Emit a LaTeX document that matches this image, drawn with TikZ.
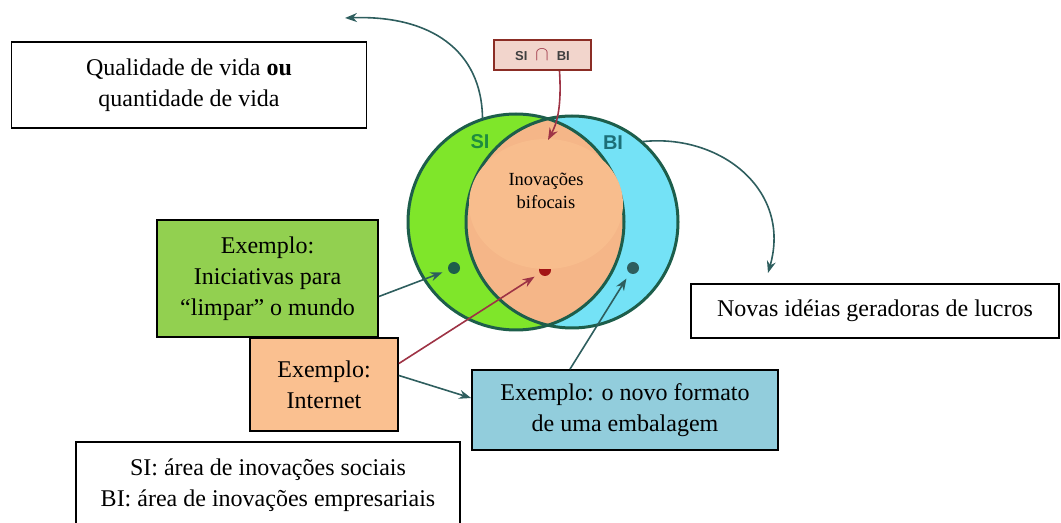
\documentclass[tikz,border=0pt]{standalone}
\usepackage{fontspec}
\setmainfont{Liberation Serif}
\newfontfamily\labelfont{Liberation Sans}
\usetikzlibrary{arrows.meta}

\definecolor{sigreen}{HTML}{7FE62A}
\definecolor{biblue}{HTML}{74E2F6}
\definecolor{interorange}{HTML}{F5B688}
\definecolor{bifocal}{HTML}{F8BD8D}
\definecolor{rimteal}{HTML}{1D5E4B}
\definecolor{sitext}{HTML}{1E8C3E}
\definecolor{bitext}{HTML}{1C6F78}
\definecolor{boxgreen}{HTML}{92D050}
\definecolor{boxorange}{HTML}{FAC090}
\definecolor{boxblue}{HTML}{92CDDC}
\definecolor{tealdark}{HTML}{2E5E5E}
\definecolor{redarrow}{HTML}{9E3345}
\definecolor{reddot}{HTML}{A31515}
\definecolor{sbborder}{HTML}{8B2D25}
\definecolor{sbfill}{HTML}{F2D5CC}

\begin{document}
\begin{tikzpicture}[x=0.5pt, y=-0.5pt,
    font=\fontsize{12}{15.5}\selectfont,
    box/.style={draw, line width=0.9pt, inner sep=0pt, align=center},
    rim/.style={draw=rimteal, line width=1.5pt},
    dot/.style={circle, inner sep=0pt, minimum size=6pt},
    link/.style={line width=0.8pt, -{Stealth[length=6pt, width=4.5pt]}}]
    \useasboundingbox (0,0) rectangle (1061,523);

    % Venn
    \node[circle, inner sep=0pt, minimum size=108pt, fill=sigreen] (SIc) at (516,222) {};
    \node[circle, inner sep=0pt, minimum size=106pt, fill=biblue] (BIc) at (572,222) {};
    \begin{scope}
      \clip (516,222) circle (54pt);
      \fill[interorange] (572,222) circle (53pt);
    \end{scope}
    \draw[rim] (SIc.center) circle (54pt);
    \draw[rim] (BIc.center) circle (53pt);

    \node[dot, fill=rimteal] (gd) at (454,268) {};
    \node[dot, fill=reddot] (rd) at (545,270) {};
    \node[dot, fill=tealdark] (bd) at (633,268) {};

    \fill[bifocal] (546,204) ellipse (38.5pt and 32.5pt);
    \node[align=center, font=\fontsize{9.25}{11.5}\selectfont] (inov) at (546,191) {Inovações\\bifocais};
    \node[text=sitext, font=\labelfont\bfseries\fontsize{10}{12}\selectfont] (silabel) at (480,142) {SI};
    \node[text=bitext, font=\labelfont\bfseries\fontsize{10}{12}\selectfont] (bilabel) at (613,143) {BI};

    \node[box, draw=sbborder, line width=1.2pt, fill=sbfill, minimum width=48.5pt, minimum height=15pt,
      font=\labelfont\bfseries\fontsize{6.5}{7}\selectfont] (SB) at (542.5,55)
      {\textcolor{black!75}{SI}\hspace{4pt}{\color{redarrow}\fontsize{10}{10}\selectfont$\cap$}\hspace{4pt}\textcolor{black!75}{BI}};

    % caixas
    \node[box, fill=white, minimum width=177.5pt, minimum height=43pt] (Q) at (189,85)
      {Qualidade de vida \textbf{ou}\\quantidade de vida};
    \node[box, fill=white, minimum width=184pt, minimum height=27pt] (N) at (875,311)
      {Novas idéias geradoras de lucros};
    \node[box, fill=boxgreen, minimum width=110.5pt, minimum height=58.5pt] (G) at (267.5,278.5)
      {Exemplo:\\Iniciativas para\\“limpar” o mundo};
    \node[box, fill=boxorange, minimum width=74pt, minimum height=46.5pt] (O) at (324,384.5)
      {Exemplo:\\Internet};
    \node[box, fill=boxblue, minimum width=153pt, minimum height=40pt] (B) at (625,410)
      {Exemplo: o novo formato\\de uma embalagem};
    \node[box, fill=white, minimum width=192pt, minimum height=43pt] (L) at (268,485)
      {SI: área de inovações sociais\\BI: área de inovações empresariais};

    \coordinate (qtip) at (345,18);
    \coordinate (ntip) at (768,273);
    \coordinate (itip) at (548,140);

    % setas
    \draw[link, tealdark] (SIc.108) .. controls (482,50) and (430,15) .. (qtip);
    \draw[link, tealdark] (BIc.49) .. controls (720,133) and (792,190) .. (ntip);
    \draw[link, redarrow] ([xshift=8.5pt]SB.south) .. controls (562,110) and (556,125) .. (itip);
    \draw[link, tealdark, shorten >=3pt] ([yshift=-9pt]G.east) -- (gd);
    \draw[link, redarrow, shorten >=3pt] ([yshift=10.5pt]O.east) -- (rd);
    \draw[link, tealdark] ([yshift=4.5pt]O.east) -- ([yshift=6pt]B.west);
    \draw[link, tealdark, shorten >=3pt] ([xshift=-27.5pt]B.north) -- (bd);
  \end{tikzpicture}
\end{document}
